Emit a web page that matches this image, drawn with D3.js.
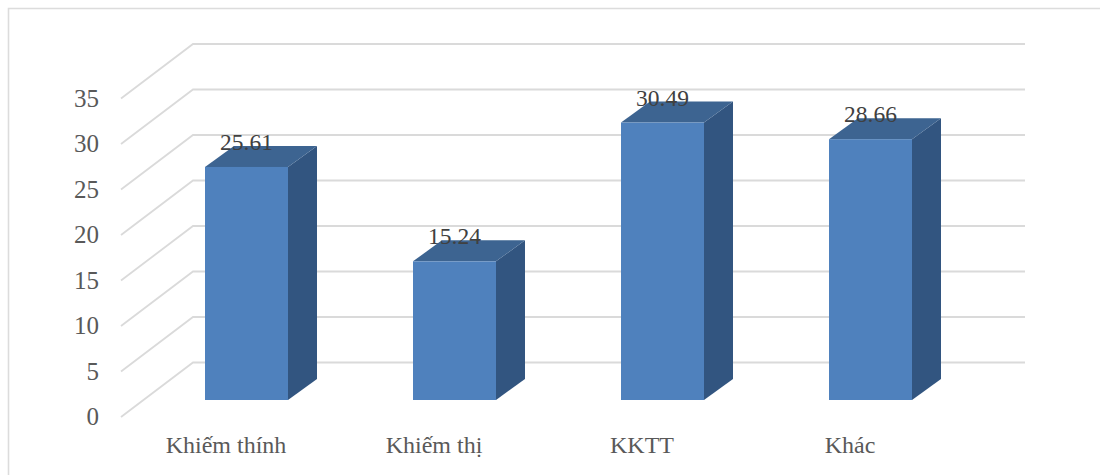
<!DOCTYPE html>
<html>
<head>
<meta charset="utf-8">
<script src="https://cdn.jsdelivr.net/npm/d3@7"></script>
<style>
html,body{margin:0;padding:0;background:#fff;}
svg{display:block;}
text{font-family:"Liberation Serif",serif;}
</style>
</head>
<body>
<svg id="c" width="1100" height="475"></svg>
<script>
const categories = ["Khiếm thính","Khiếm thị","KKTT","Khác"];
const values = [25.61,15.24,30.49,28.66];
const tickValues = [0,5,10,15,20,25,30,35];

const floorDx = 72, floorDy = -54.5;      // full depth of the 3D floor
const planeDx = 22, planeDy = -17;        // front face of bars inside the floor
const barDx = 29, barDy = -21;            // depth of a bar
const barWidth = 83;

const svg = d3.select("#c");
const x = d3.scaleBand().domain(categories).range([121,953]);
const y = d3.scaleLinear().domain([0,35]).range([417,98.5]);

// frame
svg.append("path").attr("d","M8.5,475V8.5H1100").attr("fill","none").attr("stroke","#dcdcdc").attr("stroke-width",1.6);

// gridlines
svg.append("g").selectAll("path").data(tickValues).join("path")
  .attr("d",d=>{
    const p=d3.path();
    p.moveTo(x.range()[0],y(d));
    p.lineTo(x.range()[0]+floorDx,y(d)+floorDy);
    p.lineTo(x.range()[1]+floorDx,y(d)+floorDy);
    return p.toString();
  })
  .attr("fill","none").attr("stroke","#dadada").attr("stroke-width",1.8);

// y axis labels
const yAxis = svg.append("g").attr("transform","translate(112,0)")
  .call(d3.axisLeft(y).tickValues(tickValues).tickSize(0).tickPadding(13));
yAxis.select(".domain").remove();
yAxis.selectAll("text").attr("font-size",25).attr("fill","#595959").attr("font-family","Liberation Serif").attr("dy",7.5);

// x axis labels
const xAxis = svg.append("g").attr("transform","translate(1,431)")
  .call(d3.axisBottom(x).tickSize(0).tickPadding(0));
xAxis.select(".domain").remove();
xAxis.selectAll("text").attr("font-size",24).attr("fill","#595959").attr("font-family","Liberation Serif").attr("y",0).attr("dy",22);

// bars
const bar = svg.append("g").selectAll("g").data(categories.map((c,i)=>({c,v:values[i]}))).join("g");
const left = d=>x(d.c)+x.bandwidth()/2+planeDx-barWidth/2-0.5;
const base = ()=>y(0)+planeDy;
const top_ = d=>y(d.v)+planeDy;

bar.append("path").attr("fill","#325580").attr("d",d=>{
  const l=left(d)+barWidth;
  return `M${l},${base()}L${l+barDx},${base()+barDy}L${l+barDx},${top_(d)+barDy}L${l},${top_(d)}Z`;
});
bar.append("path").attr("fill","#3d6491").attr("d",d=>{
  const l=left(d);
  return `M${l},${top_(d)}L${l+barDx},${top_(d)+barDy}L${l+barWidth+barDx},${top_(d)+barDy}L${l+barWidth},${top_(d)}Z`;
});
bar.append("rect").attr("fill","#4f81bd")
  .attr("x",d=>left(d)).attr("y",d=>top_(d))
  .attr("width",barWidth).attr("height",d=>base()-top_(d));

// data labels
bar.append("text").attr("text-anchor","middle")
  .attr("x",d=>left(d)+barWidth/2).attr("y",d=>top_(d)-17)
  .attr("font-size",23.5).attr("fill","#404040")
  .text(d=>d.v.toFixed(2));
</script>
</body>
</html>
